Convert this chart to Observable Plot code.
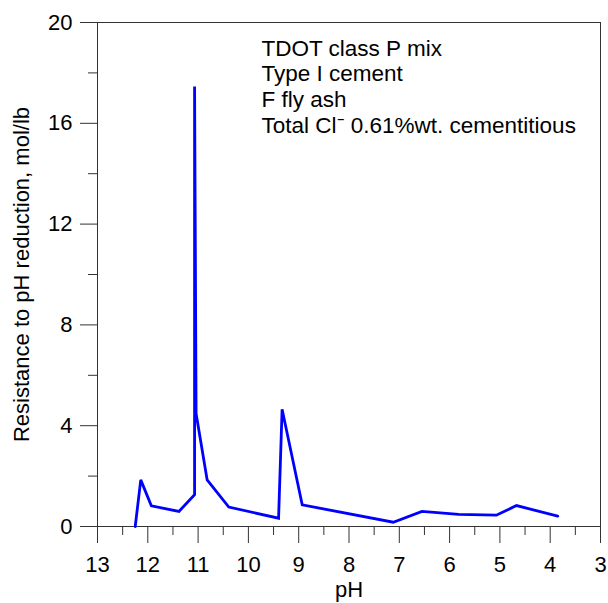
<!DOCTYPE html>
<html><head><meta charset="utf-8">
<script src="https://cdn.jsdelivr.net/npm/d3@7"></script>
<script src="https://cdn.jsdelivr.net/npm/@observablehq/plot@0.6"></script>
<style>body{margin:0;background:#fff}#chart svg{display:block}</style>
</head><body><div id="chart"></div>
<script>
const pH = [12.25, 12.14, 11.93, 11.38, 11.07, 11.07, 11.04, 10.82, 10.39, 9.40, 9.33, 8.93, 7.12, 6.55, 5.82, 5.07, 4.67, 3.85];
const resistance = [0, 1.85, 0.82, 0.60, 1.26, 17.46, 4.48, 1.85, 0.77, 0.33, 4.65, 0.86, 0.17, 0.60, 0.48, 0.45, 0.83, 0.41];
const xMajorTicks = [13, 12, 11, 10, 9, 8, 7, 6, 5, 4, 3];
const xMinorTicks = [12.5, 11.5, 10.5, 9.5, 8.5, 7.5, 6.5, 5.5, 4.5, 3.5];
const yMajorTicks = [0, 4, 8, 12, 16, 20];
const yMinorTicks = [2, 6, 10, 14, 18];
const annotationLines = ["TDOT class P mix", "Type I cement", "F fly ash", "Total Cl\u207B 0.61%wt. cementitious"];
const xLabel = "pH";
const yLabel = "Resistance to pH reduction, mol/lb";

const data = pH.map((p, i) => ({pH: p, r: resistance[i]}));
const axisColor = "#333";

const chart = Plot.plot({
  width: 608,
  height: 603,
  marginLeft: 97,
  marginRight: 8,
  marginTop: 22,
  marginBottom: 77,
  style: {fontFamily: "'Liberation Sans', Arial, sans-serif", fontSize: "22px", color: "#000", background: "#fff"},
  x: {domain: [13, 3]},
  y: {domain: [0, 20]},
  marks: [
    Plot.frame({stroke: axisColor, strokeWidth: 1}),
    Plot.axisX({ticks: xMajorTicks, tickSize: 17, tickPadding: 13, stroke: axisColor, fontSize: 22, label: xLabel, labelArrow: "none", labelAnchor: "center", labelOffset: 70, tickFormat: d => String(d)}),
    Plot.axisX({ticks: xMinorTicks, tickSize: 9, stroke: axisColor, tickFormat: () => "", label: null}),
    Plot.axisY({ticks: yMajorTicks, tickSize: 17, tickPadding: 8, stroke: axisColor, fontSize: 22, label: yLabel, labelArrow: "none", labelAnchor: "center", labelOffset: 84, tickFormat: d => String(d)}),
    Plot.axisY({ticks: yMinorTicks, tickSize: 9, stroke: axisColor, tickFormat: () => "", label: null}),
    Plot.line(data, {x: "pH", y: "r", stroke: "#0000ff", strokeWidth: 2.8, strokeLinejoin: "miter", strokeMiterlimit: 4}),
    Plot.text([annotationLines.join("\n")], {frameAnchor: "top-left", dx: 164, dy: 15, lineAnchor: "top", lineHeight: 1.14, fontSize: 22.5, fill: "#000", textAnchor: "start"})
  ]
});
document.getElementById("chart").appendChild(chart);
</script>
</body></html>
